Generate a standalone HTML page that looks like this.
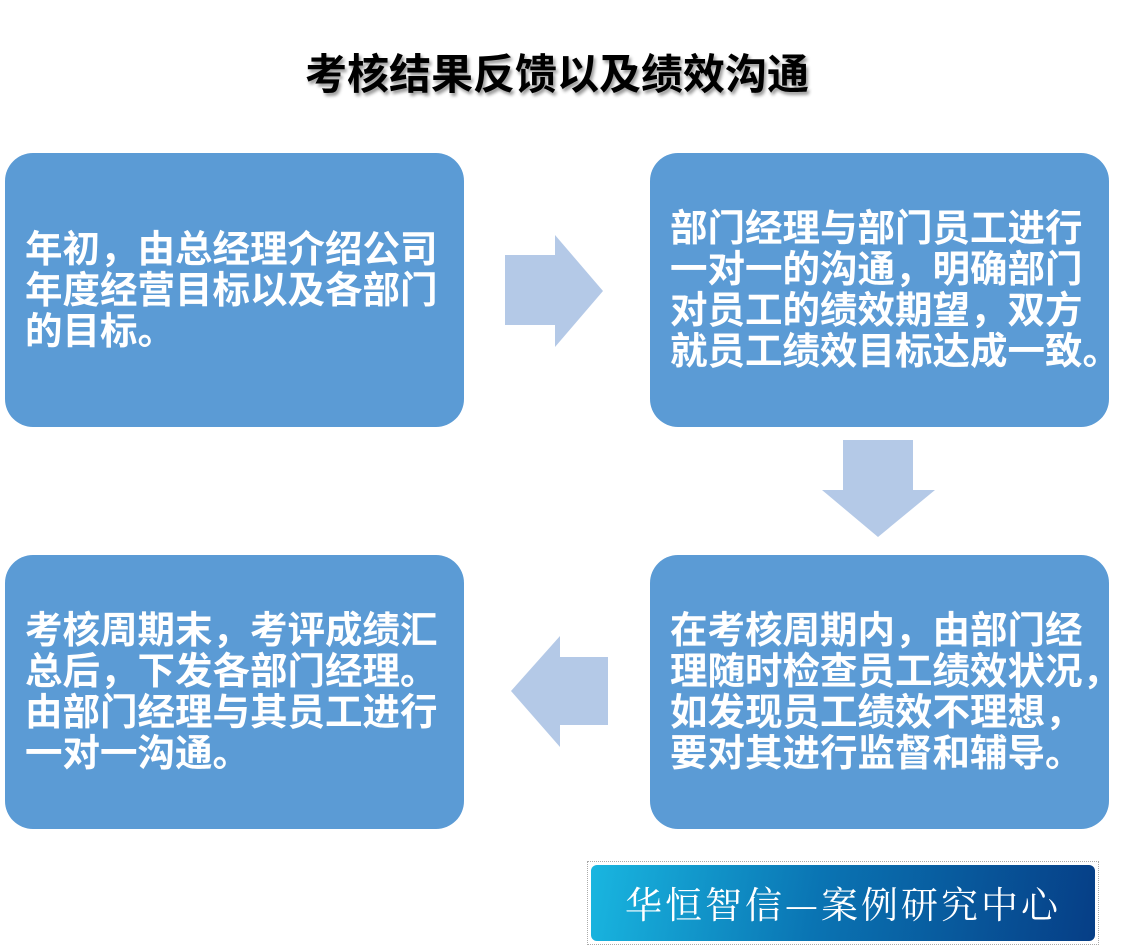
<!DOCTYPE html>
<html><head><meta charset="utf-8"><style>
body{margin:0;width:1141px;height:950px;background:#fff;position:relative;overflow:hidden;font-family:"Liberation Sans","Noto Sans CJK SC",sans-serif}
.t{position:absolute;left:0;width:1114px;top:50px;text-align:center;font-size:42px;line-height:50px;font-weight:bold;color:#000;text-shadow:2px 3px 3px #999}
.b{position:absolute;width:459px;height:274px;background:#5b9bd5;border-radius:28px;color:#fff;font-weight:bold;font-size:37.5px;line-height:41px;box-sizing:border-box;padding-left:20px;display:flex;align-items:center;white-space:nowrap}
.logo{position:absolute;left:587px;top:861px;width:512px;height:84px;border:1px dotted #aaa;box-sizing:border-box;padding:3px}
.logo div{width:100%;height:100%;border-radius:6px;background:linear-gradient(100deg,#19b6e0,#0a74b3 45%,#063e86);color:#fff;font-family:"Noto Serif CJK SC",serif;font-size:37px;text-align:center;line-height:74px;letter-spacing:3px}
</style></head><body>
<div class="t">考核结果反馈以及绩效沟通</div>
<div class="b" style="left:5px;top:153px"><div>年初，由总经理介绍公司<br>年度经营目标以及各部门<br>的目标。</div></div>
<div class="b" style="left:650px;top:153px"><div>部门经理与部门员工进行<br>一对一的沟通，明确部门<br>对员工的绩效期望，双方<br>就员工绩效目标达成一致。</div></div>
<div class="b" style="left:5px;top:555px"><div>考核周期末，考评成绩汇<br>总后，下发各部门经理。<br>由部门经理与其员工进行<br>一对一沟通。</div></div>
<div class="b" style="left:650px;top:555px"><div>在考核周期内，由部门经<br>理随时检查员工绩效状况，<br>如发现员工绩效不理想，<br>要对其进行监督和辅导。</div></div>
<svg style="position:absolute;left:0;top:0" width="1141" height="950">
<polygon points="505,255 555,255 555,235 603,291 555,347 555,325 505,325" fill="#b4c9e7"/>
<polygon points="843,440 913,440 913,490 935,490 878,537 822,490 843,490" fill="#b4c9e7"/>
<polygon points="608,657 560,657 560,636 511,691 560,747 560,725 608,725" fill="#b4c9e7"/>
</svg>
<div class="logo"><div>华恒智信—案例研究中心</div></div>
</body></html>
